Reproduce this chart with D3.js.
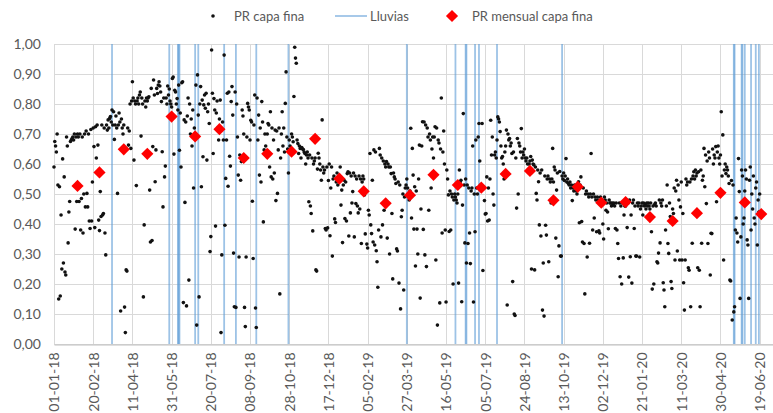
<!DOCTYPE html>
<html>
<head>
<meta charset="utf-8">
<script src="https://cdn.jsdelivr.net/npm/d3@7"></script>
<style>
  body { margin: 0; background: #fff; }
  svg { font-family: Lato, "Open Sans", sans-serif; }
</style>
</head>
<body>
<div class="chart"></div>
<script>
// width and height of the picture
let svg_width = 773;
let svg_height = 413;

// daily PR values, one per day from 01-01-18 (one line per month)
let prStart = "2018-01-01";
let prDaily = [
  0.59,0.675,0.66,0.64,0.70,0.53,0.15,0.524,0.16,0.43,0.25,0.617,0.27,0.557,0.24,0.23,0.69,0.66,0.337,0.44,0.475,0.675,0.68,0.685,0.69,0.68,0.70,0.383,0.69,0.475,0.70,
  0.69,0.475,0.70,0.38,0.485,0.69,0.37,0.50,0.70,0.457,0.71,0.502,0.457,0.70,0.41,0.385,0.715,0.41,0.54,0.72,0.658,0.388,0.724,0.62,0.73,0.663,0.413,0.378,
  0.508,0.425,0.73,0.43,0.435,0.72,0.37,0.297,0.73,0.713,0.747,0.72,0.752,0.758,0.74,0.78,0.73,0.774,0.682,0.73,0.76,0.72,0.502,0.73,0.77,0.74,0.11,0.75,0.72,0.70,0.73,
  0.123,0.038,0.247,0.243,0.72,0.663,0.71,0.80,0.652,0.81,0.874,0.82,0.613,0.81,0.80,0.528,0.81,0.82,0.80,0.83,0.84,0.693,0.82,0.80,0.157,0.397,0.81,0.79,0.82,0.81,
  0.82,0.824,0.513,0.34,0.852,0.345,0.658,0.88,0.83,0.541,0.647,0.852,0.835,0.863,0.874,0.86,0.84,0.808,0.641,0.457,0.82,0.557,0.593,0.82,0.80,0.86,0.83,0.85,0.81,0.80,0.79,
  0.885,0.89,0.633,0.846,0.84,0.80,0.818,0.78,0.863,0.646,0.77,0.59,0.871,0.874,0.138,0.747,0.472,0.74,0.127,0.76,0.82,0.213,0.80,0.70,0.75,0.66,0.78,0.52,0.72,0.70,
  0.863,0.063,0.897,0.763,0.157,0.80,0.858,0.524,0.813,0.624,0.797,0.83,0.786,0.836,0.613,0.774,0.80,0.735,0.308,0.358,0.98,0.836,0.635,0.818,0.78,0.393,0.77,0.81,0.72,0.68,0.75,
  0.813,0.038,0.297,0.74,0.68,0.963,0.396,0.552,0.68,0.836,0.526,0.84,0.626,0.593,0.808,0.858,0.763,0.303,0.124,0.84,0.122,0.80,0.69,0.563,0.29,0.63,0.546,0.608,0.78,0.76,0.70,
  0.122,0.058,0.29,0.69,0.802,0.79,0.78,0.68,0.746,0.74,0.476,0.285,0.73,0.83,0.12,0.055,0.82,0.68,0.763,0.563,0.72,0.54,0.808,0.74,0.407,0.647,0.70,0.66,0.64,0.70,
  0.735,0.73,0.59,0.774,0.557,0.72,0.55,0.68,0.57,0.713,0.478,0.71,0.502,0.647,0.72,0.167,0.62,0.70,0.774,0.66,0.72,0.64,0.802,0.907,0.69,0.65,0.57,0.68,0.66,0.64,0.70,
  0.69,0.674,0.825,0.989,0.953,0.936,0.68,0.668,0.635,0.66,0.652,0.62,0.655,0.65,0.648,0.64,0.635,0.60,0.63,0.64,0.62,0.474,0.63,0.46,0.435,0.62,0.377,0.60,0.61,0.62,
  0.247,0.243,0.583,0.636,0.62,0.60,0.58,0.546,0.747,0.59,0.57,0.58,0.385,0.38,0.59,0.387,0.545,0.60,0.361,0.52,0.59,0.293,0.55,0.56,0.417,0.405,0.54,0.57,0.53,0.55,0.56,
  0.59,0.463,0.513,0.338,0.53,0.546,0.418,0.54,0.41,0.568,0.574,0.36,0.57,0.437,0.56,0.47,0.508,0.57,0.357,0.56,0.468,0.55,0.46,0.437,0.56,0.45,0.55,0.335,0.54,0.56,0.55,
  0.497,0.367,0.508,0.333,0.32,0.446,0.43,0.635,0.397,0.368,0.546,0.34,0.647,0.33,0.64,0.311,0.274,0.189,0.38,0.652,0.63,0.357,0.62,0.397,0.61,0.446,0.60,0.59,
  0.608,0.353,0.60,0.59,0.30,0.59,0.568,0.435,0.217,0.57,0.557,0.55,0.535,0.317,0.31,0.54,0.203,0.53,0.117,0.424,0.446,0.50,0.18,0.49,0.52,0.53,0.55,0.52,0.50,0.48,0.51,
  0.719,0.42,0.652,0.563,0.383,0.524,0.26,0.51,0.383,0.30,0.55,0.663,0.153,0.45,0.66,0.741,0.382,0.74,0.297,0.73,0.258,0.72,0.69,0.446,0.70,0.68,0.52,0.65,0.69,0.62,
  0.69,0.724,0.28,0.72,0.063,0.68,0.67,0.137,0.65,0.82,0.37,0.64,0.71,0.60,0.38,0.14,0.58,0.55,0.497,0.375,0.51,0.38,0.50,0.49,0.2,0.48,0.50,0.49,0.48,0.47,0.50,
  0.203,0.58,0.54,0.546,0.141,0.463,0.768,0.53,0.337,0.55,0.27,0.53,0.335,0.52,0.37,0.268,0.51,0.52,0.66,0.14,0.50,0.374,0.68,0.52,0.50,0.69,0.735,0.61,0.53,0.52,
  0.735,0.245,0.524,0.478,0.433,0.435,0.557,0.41,0.52,0.413,0.55,0.746,0.63,0.69,0.50,0.463,0.63,0.64,0.62,0.68,0.757,0.75,0.74,0.708,0.66,0.62,0.625,0.60,0.55,0.64,0.66,
  0.713,0.13,0.70,0.68,0.685,0.66,0.67,0.635,0.208,0.64,0.10,0.095,0.62,0.453,0.685,0.50,0.67,0.66,0.64,0.718,0.62,0.64,0.63,0.65,0.62,0.61,0.62,0.60,0.58,0.60,0.61,
  0.625,0.25,0.613,0.60,0.597,0.247,0.59,0.502,0.48,0.58,0.541,0.397,0.57,0.36,0.58,0.113,0.27,0.093,0.56,0.396,0.363,0.55,0.56,0.274,0.55,0.54,0.47,0.55,0.652,0.54,
  0.59,0.58,0.353,0.513,0.57,0.224,0.327,0.575,0.293,0.293,0.56,0.55,0.57,0.545,0.56,0.618,0.54,0.55,0.535,0.53,0.54,0.52,0.53,0.478,0.52,0.51,0.53,0.52,0.51,0.50,0.52,
  0.541,0.404,0.53,0.557,0.408,0.34,0.52,0.335,0.167,0.50,0.51,0.29,0.50,0.49,0.336,0.50,0.635,0.49,0.38,0.50,0.42,0.49,0.48,0.374,0.49,0.48,0.377,0.37,0.49,0.48,
  0.48,0.40,0.35,0.49,0.48,0.446,0.47,0.44,0.384,0.48,0.47,0.47,0.46,0.47,0.465,0.47,0.46,0.385,0.47,0.38,0.335,0.285,0.47,0.224,0.46,0.20,0.47,0.287,0.43,0.46,0.46,
  0.48,0.388,0.47,0.223,0.48,0.291,0.43,0.203,0.47,0.48,0.385,0.46,0.293,0.293,0.47,0.46,0.47,0.29,0.45,0.46,0.47,0.43,0.47,0.46,0.465,0.45,0.47,0.46,0.47,0.46,0.45,
  0.47,0.374,0.183,0.46,0.2,0.465,0.47,0.46,0.274,0.27,0.303,0.48,0.337,0.47,0.46,0.48,0.204,0.18,0.124,0.38,0.46,0.53,0.335,0.302,0.47,0.425,0.208,0.185,0.45,
  0.435,0.52,0.28,0.51,0.546,0.31,0.53,0.48,0.28,0.457,0.54,0.28,0.435,0.204,0.113,0.28,0.55,0.53,0.54,0.254,0.246,0.54,0.124,0.55,0.336,0.56,0.574,0.55,0.58,0.56,0.57,
  0.254,0.574,0.246,0.124,0.58,0.336,0.546,0.56,0.652,0.524,0.63,0.468,0.61,0.335,0.64,0.62,0.23,0.369,0.368,0.65,0.60,0.63,0.62,0.658,0.474,0.64,0.66,0.62,0.60,0.63,
  0.774,0.56,0.697,0.28,0.58,0.60,0.568,0.59,0.58,0.56,0.535,0.213,0.21,0.545,0.08,0.53,0.107,0.124,0.38,0.42,0.37,0.34,0.618,0.508,0.152,0.357,0.58,0.56,0.40,0.42,0.51,
  0.58,0.55,0.347,0.33,0.152,0.546,0.59,0.38,0.50,0.45,0.56,0.42,0.40,0.52,0.54,0.33,0.48,0.44,0.50
];

// monthly PR (Jan-18 .. Jun-20), plotted at the end of each month
let prMonthly = [0.527, 0.572, 0.649, 0.634, 0.758, 0.692, 0.716, 0.620, 0.634, 0.641, 0.684, 0.551,
                 0.509, 0.469, 0.496, 0.564, 0.530, 0.521, 0.567, 0.577, 0.479, 0.524, 0.471, 0.473,
                 0.423, 0.410, 0.436, 0.504, 0.472, 0.433];
let lastMonthDate = "2020-06-21";

// rain days
let rainDates = ["2018-03-16", "2018-05-28", "2018-06-08", "2018-06-09", "2018-06-10", "2018-06-30",
                 "2018-07-04", "2018-08-06", "2018-08-21", "2018-09-16", "2018-10-27", "2019-03-27",
                 "2019-05-28", "2019-06-10", "2019-06-11", "2019-06-22", "2019-06-27", "2019-07-20",
                 "2019-10-11", "2020-05-17", "2020-05-18", "2020-05-27", "2020-05-28", "2020-05-31",
                 "2020-06-08", "2020-06-14", "2020-06-18"];

// axis ticks
let xTickStep = 50;      // days between date labels
let xTickCount = 19;
let yTicks = [0, 0.1, 0.2, 0.3, 0.4, 0.5, 0.6, 0.7, 0.8, 0.9, 1.0];

let legendLabels = ["PR capa fina", "Lluvias", "PR mensual capa fina"];

// ================================================
let parseDay = d3.utcParse("%Y-%m-%d");
let startDate = parseDay(prStart);

function addDays(d, n) {
    return new Date(d.getTime() + n * 86400000);
}

let dailyData = prDaily.map(function(v, i) { return { date: addDays(startDate, i), value: v }; });
let monthlyData = prMonthly.map(function(v, i) {
    let d = i === prMonthly.length - 1 ? parseDay(lastMonthDate) : new Date(Date.UTC(2018, i + 1, 0));
    return { date: d, value: v };
});
let rainData = rainDates.map(parseDay);
let xTickDates = d3.range(xTickCount).map(function(i) { return addDays(startDate, i * xTickStep); });

let margin = { left: 54, right: 0, top: 44, bottom: 69 };

// scales
let x_scale = d3.scaleUtc()
                .domain([startDate, parseDay("2020-07-06")])
                .range([margin.left, svg_width - margin.right]);

let y_scale = d3.scaleLinear()
                .domain([0, 1])
                .range([svg_height - margin.bottom, margin.top]);

let commaLocale = d3.formatLocale({ decimal: ",", thousands: ".", grouping: [3], currency: ["", "€"] });
let yFormat = commaLocale.format(".2f");
let xFormat = d3.utcFormat("%d-%m-%y");

let gridColor = "#d9d9d9";
let labelColor = "#595959";
let rainColor = "#5b9bd5";

// ================================================
let svg = d3.select('.chart')
                .append('svg')
                .attr('width', svg_width)
                .attr('height', svg_height);

// horizontal gridlines
svg.append('g')
    .selectAll('line')
    .data(yTicks)
    .enter()
    .append('line')
    .attr('x1', margin.left)
    .attr('x2', svg_width)
    .attr('y1', function(d) { return y_scale(d) + 0.5; })
    .attr('y2', function(d) { return y_scale(d) + 0.5; })
    .attr('stroke', gridColor)
    .attr('stroke-width', 1);

// vertical gridlines at the date ticks
svg.append('g')
    .selectAll('line')
    .data(xTickDates)
    .enter()
    .append('line')
    .attr('x1', function(d) { return Math.round(x_scale(d)) + 0.5; })
    .attr('x2', function(d) { return Math.round(x_scale(d)) + 0.5; })
    .attr('y1', y_scale(1))
    .attr('y2', y_scale(0))
    .attr('stroke', gridColor)
    .attr('stroke-width', 1);

// y axis labels
let yAxis = d3.axisLeft(y_scale).tickValues(yTicks).tickFormat(yFormat).tickSize(0).tickPadding(13);
let gy = svg.append('g').attr('transform', 'translate(' + margin.left + ',0.5)').call(yAxis);
gy.select('.domain').remove();
gy.selectAll('text').attr('fill', labelColor).attr('font-size', 14).attr('font-family', 'Lato');

// x axis with rotated date labels
let xAxis = d3.axisBottom(x_scale).tickValues(xTickDates).tickFormat(xFormat).tickSize(0).tickPadding(0);
let gx = svg.append('g').attr('transform', 'translate(0,' + (y_scale(0) + 0.5) + ')').call(xAxis);
gx.select('.domain').attr('stroke', '#bfbfbf');
gx.selectAll('text')
    .attr('fill', labelColor)
    .attr('font-size', 14)
    .attr('font-family', 'Lato')
    .attr('text-anchor', 'end')
    .attr('dy', '0.35em')
    .attr('transform', 'translate(0,8) rotate(-90)')
    .attr('x', 0)
    .attr('y', 0);

// rain lines
svg.append('g')
    .selectAll('line')
    .data(rainData)
    .enter()
    .append('line')
    .attr('x1', function(d) { return x_scale(d); })
    .attr('x2', function(d) { return x_scale(d); })
    .attr('y1', y_scale(1))
    .attr('y2', y_scale(0))
    .attr('stroke', rainColor)
    .attr('stroke-opacity', 0.6)
    .attr('stroke-width', 1.8);

// daily dots
svg.append('g')
    .selectAll('circle')
    .data(dailyData)
    .enter()
    .append('circle')
    .attr('cx', function(d) { return x_scale(d.date); })
    .attr('cy', function(d) { return y_scale(d.value); })
    .attr('r', 1.8)
    .attr('fill', '#111');

// monthly diamonds
let diamond = d3.symbol().type(d3.symbolSquare).size(74);
svg.append('g')
    .selectAll('path')
    .data(monthlyData)
    .enter()
    .append('path')
    .attr('d', diamond)
    .attr('transform', function(d) { return 'translate(' + x_scale(d.date) + ',' + y_scale(d.value) + ') rotate(45)'; })
    .attr('fill', '#ff0000');

// legend
let legend = svg.append('g').attr('font-family', 'Lato').attr('font-size', 13).attr('fill', labelColor);
let ly = 16;
legend.append('circle').attr('cx', 213).attr('cy', ly).attr('r', 1.8).attr('fill', '#111');
legend.append('text').attr('x', 234).attr('y', ly).attr('dy', '0.35em').text(legendLabels[0]);
legend.append('line').attr('x1', 335).attr('x2', 367).attr('y1', ly).attr('y2', ly)
    .attr('stroke', rainColor).attr('stroke-opacity', 0.6).attr('stroke-width', 1.8);
legend.append('text').attr('x', 370).attr('y', ly).attr('dy', '0.35em').text(legendLabels[1]);
legend.append('path').attr('d', diamond)
    .attr('transform', 'translate(452,' + ly + ') rotate(45)').attr('fill', '#ff0000');
legend.append('text').attr('x', 472).attr('y', ly).attr('dy', '0.35em').text(legendLabels[2]);
</script>
</body>
</html>
